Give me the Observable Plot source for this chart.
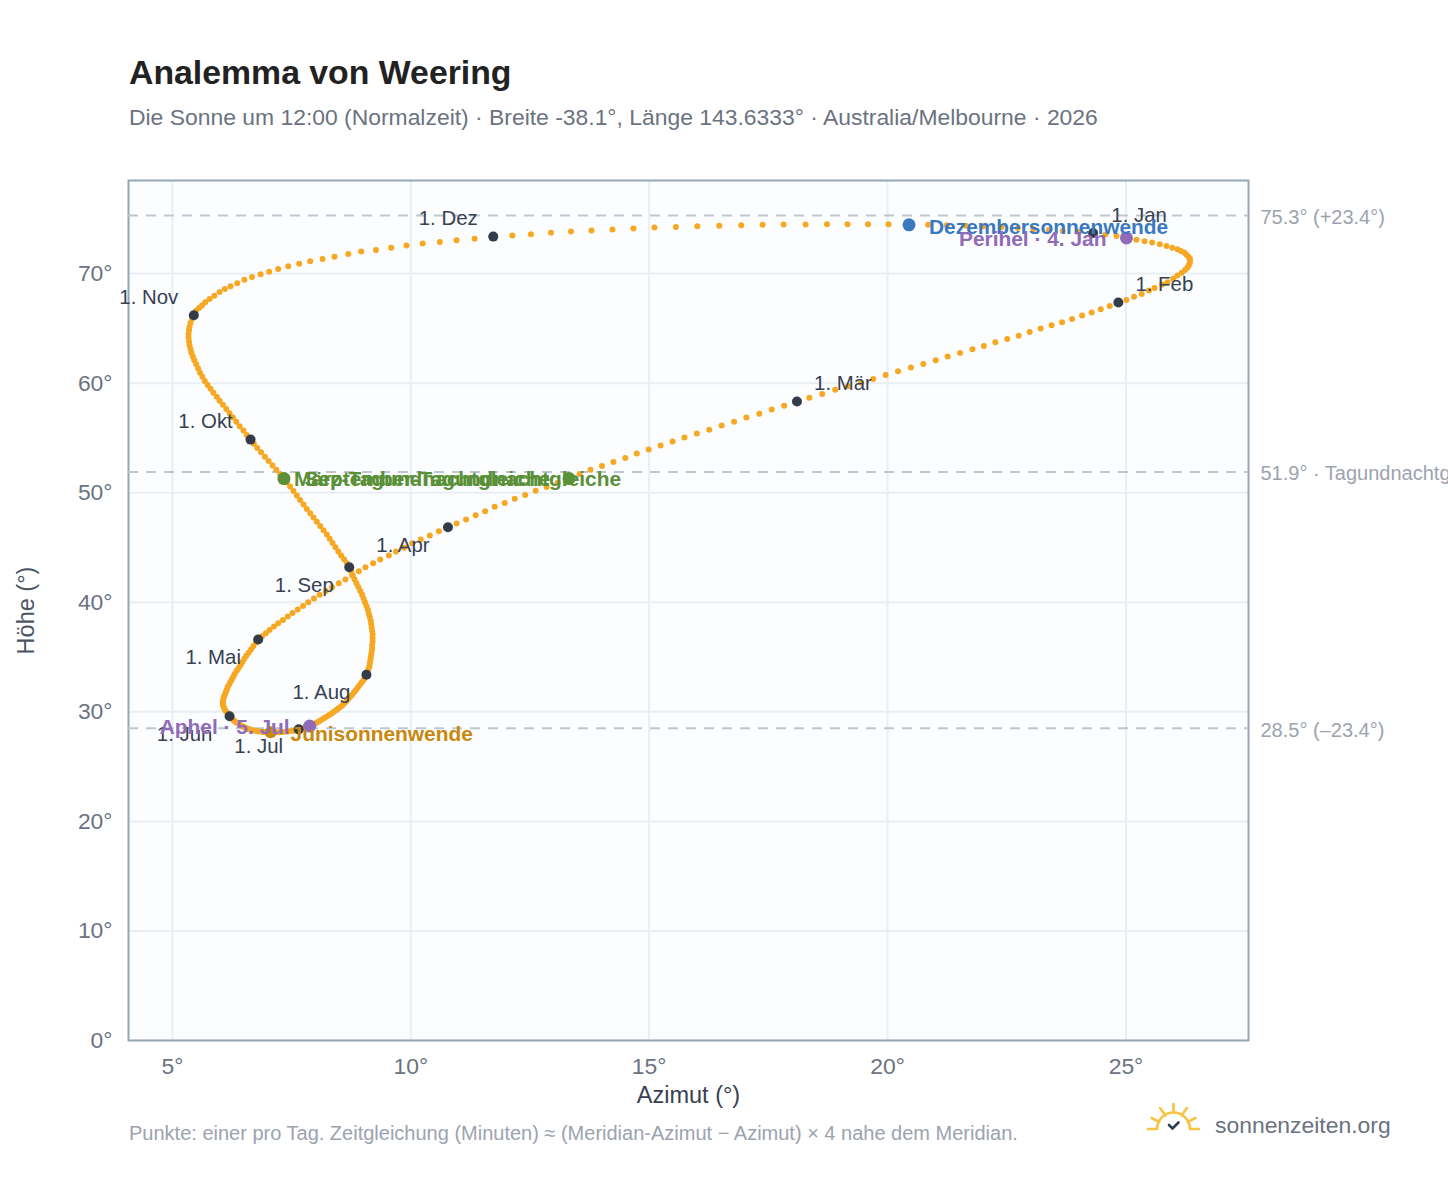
<!DOCTYPE html>
<html lang="de"><head><meta charset="utf-8">
<script src="https://cdn.jsdelivr.net/npm/d3@7"></script>
<script src="https://cdn.jsdelivr.net/npm/@observablehq/plot@0.6"></script>
<style>
html,body{margin:0;padding:0;background:#fff;font-family:"Liberation Sans",Arial,sans-serif;}
#page{position:relative;width:1448px;height:1188px;overflow:hidden;}
#head{height:150px;padding-left:129px;box-sizing:border-box;position:relative;}
#head h1{position:absolute;left:129px;top:52px;margin:0;font-size:33.8px;line-height:40px;font-weight:700;color:#222;}
#head p{position:absolute;left:129px;top:103px;margin:0;font-size:22.9px;line-height:28px;color:#6b7280;white-space:nowrap;}
#chart svg{display:block;}
#note{position:absolute;left:129px;top:1121px;font-size:20px;line-height:24px;color:#9ca3af;white-space:nowrap;}
#brand{position:absolute;left:1215px;top:1110px;font-size:22.9px;line-height:30px;color:#6b7280;}
#logo{position:absolute;left:1146px;top:1102px;}
</style></head>
<body><div id="page">
<div id="head"><h1>Analemma von Weering</h1>
<p>Die Sonne um 12:00 (Normalzeit) · Breite -38.1°, Länge 143.6333° · Australia/Melbourne · 2026</p></div>
<div id="chart"></div>
<div id="note">Punkte: einer pro Tag. Zeitgleichung (Minuten) ≈ (Meridian-Azimut − Azimut) × 4 nahe dem Meridian.</div>
<svg id="logo" width="56" height="34" viewBox="0 0 56 34" fill="none" stroke="#f6c343" stroke-width="2.6" stroke-linecap="round">
<path d="M2 27H11M44 27H53M11 27A16.5 16.5 0 0 1 44 27M27.5 2V10M14 6L19.500 13.500M41 6L35.500 13.500M5.500 16L13.500 20M49.500 16L41.500 20"/>
<path d="M23 23L26.500 26.500L32.500 20.500" stroke="#2c3e50"/></svg>
<div id="brand">sonnenzeiten.org</div>
</div>
<script>
const monthNames = ["Jan","Feb","Mär","Apr","Mai","Jun","Jul","Aug","Sep","Okt","Nov","Dez"];

const azJan = [24.31,24.57,24.80,25.01,25.22,25.39,25.55,25.71,25.85,25.97,26.08,26.15,26.22,26.27,26.31,26.34,26.34,26.34,26.32,26.29,26.24,26.17,26.08,25.99,25.87,25.76,25.60,25.48,25.33,25.17,25.01];
const altJan = [73.70,73.56,73.44,73.26,73.10,72.95,72.83,72.68,72.53,72.37,72.22,72.07,71.92,71.73,71.55,71.37,71.19,71.00,70.78,70.55,70.32,70.09,69.82,69.54,69.22,69.00,68.69,68.45,68.15,67.90,67.60];
const azFeb = [24.84,24.66,24.47,24.28,24.08,23.87,23.66,23.44,23.21,22.98,22.75,22.51,22.26,22.02,21.78,21.52,21.26,21.01,20.75,20.49,20.22,19.96,19.70,19.44,19.17,18.90,18.63,18.36];
const altFeb = [67.36,67.05,66.75,66.44,66.17,65.86,65.56,65.28,64.98,64.68,64.34,64.04,63.73,63.40,63.09,62.76,62.43,62.09,61.76,61.42,61.09,60.75,60.39,60.05,59.72,59.39,59.02,58.66];
const azMar = [18.10,17.83,17.57,17.31,17.04,16.78,16.52,16.26,16.00,15.74,15.49,15.24,14.99,14.74,14.50,14.25,14.01,13.77,13.54,13.32,13.08,12.85,12.62,12.40,12.18,11.97,11.76,11.56,11.36,11.16,10.96];
const altMar = [58.32,57.95,57.59,57.22,56.86,56.49,56.13,55.76,55.40,55.03,54.67,54.30,53.94,53.57,53.18,52.81,52.45,52.09,51.72,51.29,50.90,50.53,50.17,49.80,49.44,49.07,48.71,48.31,47.94,47.55,47.18];
const azApr = [10.78,10.59,10.40,10.21,10.03,9.86,9.69,9.54,9.36,9.21,9.05,8.91,8.77,8.63,8.49,8.35,8.22,8.09,7.97,7.85,7.74,7.63,7.52,7.42,7.32,7.22,7.13,7.04,6.96,6.88];
const altApr = [46.85,46.48,46.09,45.72,45.39,44.97,44.63,44.26,43.90,43.56,43.20,42.83,42.44,42.07,41.74,41.38,41.03,40.68,40.34,40.00,39.67,39.34,39.02,38.70,38.39,38.08,37.78,37.48,37.18,36.89];
const azMay = [6.80,6.75,6.70,6.65,6.60,6.55,6.51,6.47,6.43,6.39,6.35,6.31,6.28,6.25,6.22,6.19,6.16,6.14,6.12,6.10,6.08,6.07,6.06,6.06,6.06,6.07,6.08,6.10,6.12,6.15,6.18];
const altMay = [36.60,36.30,36.00,35.70,35.40,35.12,34.84,34.56,34.28,34.00,33.74,33.48,33.23,32.98,32.75,32.50,32.26,32.02,31.79,31.57,31.37,31.18,31.00,30.83,30.68,30.53,30.38,30.23,30.06,29.90,29.75];
const azJun = [6.20,6.23,6.26,6.29,6.32,6.36,6.40,6.44,6.48,6.52,6.56,6.60,6.64,6.69,6.74,6.79,6.84,6.89,6.94,7.00,7.06,7.12,7.18,7.24,7.30,7.36,7.42,7.48,7.54,7.60];
const altJun = [29.60,29.47,29.35,29.22,29.10,28.98,28.87,28.76,28.67,28.58,28.50,28.43,28.37,28.32,28.27,28.23,28.20,28.17,28.15,28.14,28.13,28.13,28.13,28.14,28.16,28.18,28.21,28.24,28.28,28.33];
const azJul = [7.65,7.71,7.77,7.83,7.88,7.93,7.98,8.03,8.08,8.13,8.18,8.23,8.28,8.33,8.38,8.43,8.48,8.53,8.57,8.61,8.65,8.69,8.73,8.77,8.81,8.85,8.89,8.93,8.97,9.01,9.04];
const altJul = [28.40,28.47,28.54,28.62,28.70,28.80,28.91,29.03,29.15,29.28,29.41,29.55,29.69,29.83,29.98,30.14,30.30,30.46,30.62,30.78,30.97,31.17,31.37,31.57,31.78,32.00,32.22,32.45,32.68,32.91,33.14];
const azAug = [9.07,9.09,9.11,9.13,9.14,9.15,9.16,9.17,9.18,9.19,9.19,9.20,9.20,9.20,9.19,9.18,9.17,9.16,9.14,9.12,9.10,9.07,9.04,9.01,8.98,8.94,8.90,8.86,8.82,8.78,8.75];
const altAug = [33.38,33.63,33.88,34.13,34.38,34.66,34.94,35.22,35.50,35.78,36.10,36.42,36.74,37.06,37.38,37.70,38.02,38.34,38.66,38.98,39.32,39.66,40.00,40.34,40.69,41.04,41.39,41.74,42.10,42.46,42.83];
const azSep = [8.71,8.66,8.60,8.54,8.48,8.42,8.36,8.30,8.24,8.17,8.10,8.03,7.96,7.89,7.82,7.75,7.68,7.61,7.54,7.47,7.40,7.34,7.26,7.18,7.10,7.02,6.94,6.86,6.78,6.71];
const altSep = [43.20,43.56,43.92,44.28,44.63,45.02,45.41,45.80,46.19,46.57,46.96,47.35,47.74,48.13,48.52,48.93,49.34,49.75,50.16,50.58,50.93,51.29,51.69,52.09,52.49,52.89,53.29,53.69,54.08,54.47];
const azOct = [6.64,6.56,6.49,6.41,6.34,6.27,6.20,6.13,6.06,5.99,5.93,5.86,5.80,5.74,5.68,5.63,5.58,5.54,5.50,5.46,5.43,5.40,5.38,5.36,5.35,5.34,5.34,5.35,5.36,5.38,5.41];
const altOct = [54.85,55.26,55.67,56.07,56.47,56.86,57.25,57.64,58.03,58.40,58.76,59.12,59.48,59.84,60.20,60.58,60.96,61.34,61.72,62.10,62.44,62.78,63.12,63.46,63.80,64.14,64.48,64.82,65.16,65.50,65.85];
const azNov = [5.45,5.50,5.56,5.62,5.69,5.78,5.88,5.99,6.10,6.22,6.36,6.51,6.67,6.85,7.03,7.22,7.43,7.66,7.89,8.15,8.40,8.69,8.96,9.27,9.59,9.91,10.25,10.61,10.96,11.34];
const altNov = [66.20,66.62,66.87,67.08,67.38,67.69,67.99,68.33,68.60,68.84,69.12,69.43,69.70,69.94,70.18,70.43,70.67,70.91,71.13,71.34,71.55,71.80,72.01,72.16,72.37,72.56,72.74,72.89,73.04,73.19];
const azDec = [11.73,12.13,12.52,12.94,13.36,13.79,14.23,14.67,15.11,15.56,16.01,16.47,16.93,17.38,17.82,18.28,18.73,19.16,19.59,20.02,20.45,20.85,21.24,21.64,22.01,22.39,22.73,23.06,23.38,23.67,24.01];
const altDec = [73.38,73.47,73.59,73.72,73.84,73.93,74.02,74.11,74.20,74.26,74.32,74.38,74.41,74.45,74.48,74.48,74.50,74.50,74.50,74.50,74.45,74.45,74.41,74.38,74.32,74.25,74.17,74.08,73.99,73.90,73.82];

const azByMonth  = [azJan,azFeb,azMar,azApr,azMay,azJun,azJul,azAug,azSep,azOct,azNov,azDec];
const altByMonth = [altJan,altFeb,altMar,altApr,altMay,altJun,altJul,altAug,altSep,altOct,altNov,altDec];

const refAltitudes = [75.3,51.9,28.5];
const refLabels = ["75.3° (+23.4°)","51.9° · Tagundnachtgleiche","28.5° (–23.4°)"];
const xTicks = [5,10,15,20,25];
const yTicks = [0,10,20,30,40,50,60,70];

const days = azByMonth.flatMap((arr,m)=>arr.map((az,i)=>({month:m,day:i+1,az,alt:altByMonth[m][i]})));
const firsts = days.filter(d=>d.day===1).map(d=>({...d,label:"1. "+monthNames[d.month]}));
const at = (m,day)=>days.find(d=>d.month===m&&d.day===day);
const special = (m,day,label,color)=>({...at(m,day),label,color});
const perihel = special(0,4,"Perihel · 4. Jan","#8f6bb8");
const aphel   = special(6,5,"Aphel · 5. Jul","#8f6bb8");
const decSol  = special(11,21,"Dezembersonnenwende","#3a78c0");
const junSol  = special(5,21,"Junisonnenwende","#c8880c");
const sepEq   = special(8,22,"März-Tagundnachtgleiche","#5a9038");
const marEq   = special(2,20,"September-Tagundnachtgleiche","#5a9038");

const ink="#374151", font="Liberation Sans, Arial, sans-serif";
const monthText=(names,dx,dy)=>Plot.text(firsts.filter(d=>names.includes(monthNames[d.month])),
  {x:"az",y:"alt",text:"label",dx,dy,fill:ink,fontSize:20.4});
const specialDot=(list,r)=>Plot.dot(list,{x:"az",y:"alt",r,fill:"color"});
const specialText=(list,textAnchor,dx,dy)=>Plot.text(list,
  {x:"az",y:"alt",text:"label",fill:"color",fontSize:20.9,fontWeight:"bold",textAnchor,dx,dy});

const plot = Plot.plot({
  width:1448,height:960,marginLeft:128,marginRight:200,marginTop:30,marginBottom:70,
  style:{fontFamily:font,background:"transparent",overflow:"hidden"},
  x:{domain:[4.08,27.57]},
  y:{domain:[0,78.5]},
  marks:[
    Plot.frame({fill:"#fbfdff",stroke:"none"}),
    Plot.gridX(xTicks,{stroke:"#e9eef3",strokeOpacity:1,strokeWidth:2}),
    Plot.gridY(yTicks,{stroke:"#e9eef3",strokeOpacity:1,strokeWidth:2}),
    Plot.frame({stroke:"#97a5b5",strokeWidth:2}),
    Plot.axisX({ticks:xTicks,tickSize:0,tickPadding:17,tickFormat:d=>d+"°",fill:"#6b7280",fontSize:22.9,label:null}),
    Plot.axisX([],{fill:"#374151",fontSize:23.5,label:"Azimut (°)",labelAnchor:"center",labelArrow:"none",labelOffset:62}),
    Plot.axisY({ticks:yTicks,tickSize:0,tickPadding:16,tickFormat:d=>d+"°",fill:"#6b7280",fontSize:22.9,label:null}),
    Plot.axisY([],{fill:"#4b5563",fontSize:23.5,label:"Höhe (°)",labelAnchor:"center",labelArrow:"none",labelOffset:111}),
    Plot.ruleY(refAltitudes,{stroke:"#bcc7d2",strokeWidth:2,strokeDasharray:"10,8"}),
    Plot.dot(days,{x:"az",y:"alt",r:3,fill:"#f7a823"}),
    Plot.dot(firsts,{x:"az",y:"alt",r:5,fill:"#343c49"}),
    specialDot([decSol,perihel,aphel,sepEq,marEq],6.5),
    specialDot([junSol],6),
    Plot.text(refAltitudes,{x:()=>27.57,y:d=>d,text:(d,i)=>refLabels[i],textAnchor:"start",dx:12,dy:2,fill:"#9ca3af",fontSize:20}),
    monthText(["Jan","Feb","Mär"],46,-18),
    monthText(["Apr","Mai","Jun","Aug","Sep"],-45,18),
    monthText(["Jul"],-40,17),
    monthText(["Okt","Nov","Dez"],-45,-18),
    specialText([decSol,junSol],"start",20,2),
    specialText([sepEq],"start",10,1),
    specialText([marEq],"end",52,1),
    specialText([perihel,aphel],"end",-20,1)
  ]
});
document.getElementById("chart").appendChild(plot);
</script>
</body></html>
